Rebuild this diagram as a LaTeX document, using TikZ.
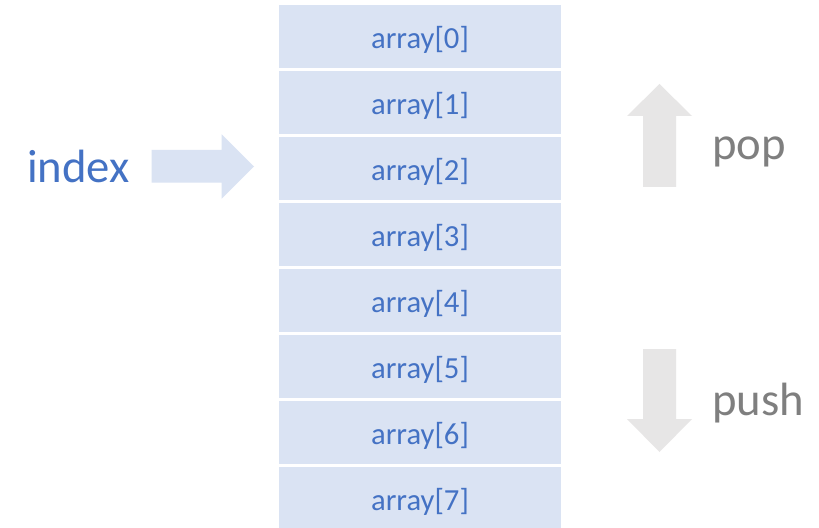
\documentclass[tikz,border=0pt]{standalone}
\usepackage{fontspec}
\setmainfont{Carlito}
\definecolor{boxfill}{HTML}{DAE3F3}
\definecolor{bluetext}{HTML}{4472C4}
\definecolor{grayarrow}{HTML}{E7E6E6}
\definecolor{graytext}{HTML}{7F7F7F}
\begin{document}
\begin{tikzpicture}[x=0.75pt,y=-0.75pt,
  cell/.style={rectangle, fill=boxfill, draw=none, inner sep=0pt,
    minimum width=211.5pt, minimum height=47.25pt,
    text height=18pt, text depth=0pt, text=bluetext,
    font=\fontsize{23}{27}\selectfont},
  biglabel/.style={inner sep=0pt, anchor=base west, font=\fontsize{35}{42}\selectfont}]
\useasboundingbox[fill=white] (0,0) rectangle (819,528);
% stack cells
\foreach \k in {0,...,7}{
  \node[cell] (c\k) at (420, 36.5+66*\k) {array[\k]};
}
% index label and arrow
\node[biglabel, text=bluetext] (index) at (27,183) {index};
\fill[boxfill] (151.7,150) -- (221.7,150) -- (221.7,134.3) -- (254,166.5)
  -- (221.7,198.7) -- (221.7,182.7) -- (151.7,182.7) -- cycle;
% pop arrow
\fill[grayarrow] (643,187) -- (643,116) -- (627,116) -- (659.5,84)
  -- (692,116) -- (676,116) -- (676,187) -- cycle;
\node[biglabel, text=graytext] (pop) at (712,160) {pop};
% push arrow
\fill[grayarrow] (643,349) -- (676,349) -- (676,419) -- (692,419)
  -- (659.5,452) -- (627,419) -- (643,419) -- cycle;
\node[biglabel, text=graytext] (push) at (712,415) {push};
\end{tikzpicture}
\end{document}
